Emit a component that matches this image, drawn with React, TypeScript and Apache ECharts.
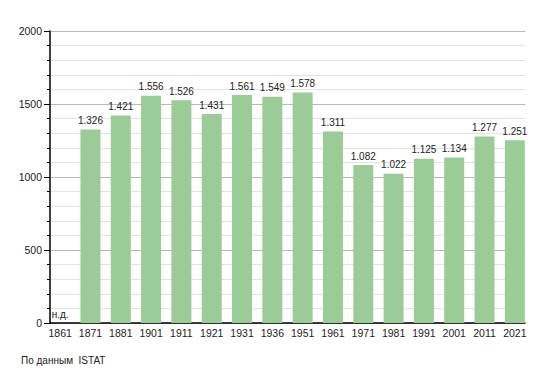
import React, { useEffect, useRef } from "react";
import * as echarts from "echarts";

const categories = ["1861", "1871", "1881", "1901", "1911", "1921", "1931", "1936", "1951", "1961", "1971", "1981", "1991", "2001", "2011", "2021"];
const population = [0, 1326, 1421, 1556, 1526, 1431, 1561, 1549, 1578, 1311, 1082, 1022, 1125, 1134, 1277, 1251];
const missing = [true, false, false, false, false, false, false, false, false, false, false, false, false, false, false, false];
const yTicks = [0, 500, 1000, 1500, 2000];

const FONT = "Liberation Sans, Arial, sans-serif";

function fmt(v: number): string {
  const s = String(Math.round(v));
  return s.replace(/\B(?=(\d{3})+(?!\d))/g, ".");
}

export default function App() {
  const ref = useRef<HTMLDivElement>(null);
  useEffect(() => {
    if (!ref.current) return;
    const chart = echarts.init(ref.current, undefined, { renderer: "svg" });
    chart.setOption({
      animation: false,
      backgroundColor: "#ffffff",
      grid: [
        { left: 45, right: 25, top: 31, bottom: 50 },
        { left: 50, right: 30, top: 31, bottom: 50 },
      ],
      xAxis: [
        {
          type: "category",
          gridIndex: 0,
          data: categories,
          axisLine: { show: false },
          axisTick: { show: false },
          axisLabel: { color: "#222", fontFamily: FONT, fontSize: 10.5, margin: 4, interval: 0 },
          splitLine: { show: false },
        },
        {
          type: "value",
          gridIndex: 1,
          min: 0,
          max: 1,
          axisLine: { show: true, onZero: false, lineStyle: { color: "#000", width: 1.5 } },
          axisTick: { show: false },
          axisLabel: { show: false },
          splitLine: { show: false },
        },
      ],
      yAxis: [
        {
          type: "value",
          gridIndex: 0,
          min: yTicks[0],
          max: yTicks[yTicks.length - 1],
          show: false,
          splitLine: { show: false },
        },
        {
          type: "value",
          gridIndex: 1,
          min: yTicks[0],
          max: yTicks[yTicks.length - 1],
          interval: 500,
          axisLine: { show: true, lineStyle: { color: "#000", width: 1.5 } },
          axisTick: { show: true, length: 6, lineStyle: { color: "#000" } },
          minorTick: { show: true, splitNumber: 5, length: 3, lineStyle: { color: "#000" } },
          axisLabel: { color: "#222", fontFamily: FONT, fontSize: 10.5, margin: 8, formatter: (v: number) => String(v) },
          splitLine: { show: true, lineStyle: { color: "#b8b8b8", width: 1 } },
          minorSplitLine: { show: true, lineStyle: { color: "#e2e2e2", width: 1 } },
        },
      ],
      series: [
        {
          type: "bar",
          xAxisIndex: 0,
          yAxisIndex: 0,
          data: population,
          barWidth: 20,
          itemStyle: { color: "#9bcc98" },
          label: {
            show: true,
            position: "top",
            distance: 4,
            color: "#222",
            fontFamily: FONT,
            fontSize: 10,
            formatter: (p: any) => (missing[p.dataIndex] ? "н.д." : fmt(p.value)),
          },
        },
      ],
      graphic: [
        {
          type: "text",
          left: 21,
          top: 355,
          style: { text: "По данным  ISTAT", fill: "#222", font: `10px ${FONT}` },
        },
      ],
    });
    return () => chart.dispose();
  }, []);
  return <div ref={ref} style={{ width: 555, height: 373, position: "fixed", left: 0, top: 0 }} />;
}
